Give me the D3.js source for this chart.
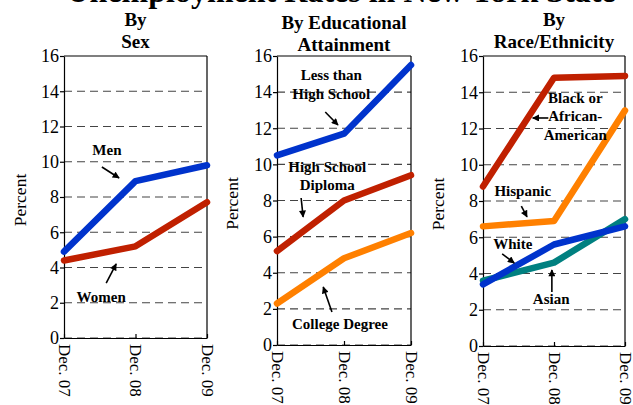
<!DOCTYPE html>
<html>
<head>
<meta charset="utf-8">
<script src="https://cdn.jsdelivr.net/npm/d3@7"></script>
<style>
  body { margin: 0; background: #fff; }
  svg { display: block; }
  svg text { font-family: "Liberation Serif", "DejaVu Serif", serif; }
</style>
</head>
<body>
<svg id="chart" width="633" height="405"></svg>
<script>
// ===== Data =====
const periods = ["Dec. 07", "Dec. 08", "Dec. 09"];
const yTicks = [0, 2, 4, 6, 8, 10, 12, 14, 16];

// By sex
const menVals = [4.9, 8.9, 9.8];
const womenVals = [4.4, 5.2, 7.7];

// By educational attainment
const lessThanHsVals = [10.5, 11.7, 15.5];
const hsDiplomaVals = [5.2, 8.0, 9.4];
const collegeVals = [2.3, 4.8, 6.2];

// By race/ethnicity
const blackVals = [8.8, 14.8, 14.9];
const hispanicVals = [6.6, 6.9, 13.0];
const asianVals = [3.6, 4.6, 7.0];
const whiteVals = [3.4, 5.6, 6.6];

// ===== Config =====
const TITLE = "Unemployment Rates in New York State";
const FONT = "'Liberation Serif', 'DejaVu Serif', serif";
const C_BLUE = "#0033cc", C_RED = "#c02000", C_ORANGE = "#ff8000", C_TEAL = "#008080";
const LINE_W = 6.5;

// annotations: text anchor + arrow given in data units (x = period index, y = percent)
const panels = [
  {
    title: ["By", "Sex"], titleY: 26,
    x0: 64, x1: 207, yTop: 56, yBot: 338, percentX: 20,
    series: [
      { vals: womenVals, color: C_RED },
      { vals: menVals, color: C_BLUE }
    ],
    notes: [
      { lines: ["Men"], at: [0.60, 10.38], from: [0.53, 9.70], to: [0.77, 9.08] },
      { lines: ["Women"], at: [0.52, 2.04], from: [0.59, 3.12], to: [0.73, 4.20] }
    ]
  },
  {
    title: ["By Educational", "Attainment"], titleY: 29,
    x0: 277, x1: 411, yTop: 56, yBot: 345, percentX: 232,
    series: [
      { vals: collegeVals, color: C_ORANGE },
      { vals: hsDiplomaVals, color: C_RED },
      { vals: lessThanHsVals, color: C_BLUE }
    ],
    notes: [
      { lines: ["Less than", "High School"], at: [0.81, 14.67], from: [0.72, 12.90], to: [0.91, 12.18] },
      { lines: ["High School", "Diploma"], at: [0.75, 9.58], from: [0.36, 8.14], to: [0.39, 7.09] },
      { lines: ["College Degree"], at: [0.94, 0.89], from: [0.82, 1.83], to: [0.69, 3.21] }
    ]
  },
  {
    title: ["By", "Race/Ethnicity"], titleY: 26,
    x0: 483, x1: 625, yTop: 56, yBot: 346, percentX: 438,
    series: [
      { vals: blackVals, color: C_RED },
      { vals: hispanicVals, color: C_ORANGE },
      { vals: asianVals, color: C_TEAL },
      { vals: whiteVals, color: C_BLUE }
    ],
    notes: [
      { lines: ["Black or", "African-", "American"], at: [1.30, 13.41], from: [0.92, 12.58], to: [0.70, 12.58] },
      { lines: ["Hispanic"], at: [0.56, 8.28], from: [0.54, 7.72], to: [0.62, 7.12] },
      { lines: ["White"], at: [0.42, 5.35], from: [0.27, 5.08], to: [0.44, 4.58] },
      { lines: ["Asian"], at: [0.96, 2.32], from: [0.97, 2.98], to: [0.97, 4.19] }
    ]
  }
];

// ===== Build =====
const svg = d3.select("#chart").attr("font-family", FONT);

svg.append("defs").append("marker")
  .attr("id", "arrow")
  .attr("viewBox", "0 0 10 10")
  .attr("refX", 9).attr("refY", 5)
  .attr("markerUnits", "userSpaceOnUse")
  .attr("markerWidth", 8).attr("markerHeight", 7)
  .attr("orient", "auto")
  .append("path").attr("d", "M0,0 L10,5 L0,10 z").attr("fill", "#000");

svg.append("text")
  .attr("x", 341).attr("y", 2)
  .attr("text-anchor", "middle")
  .attr("font-family", FONT)
  .attr("font-size", 32).attr("font-weight", "bold")
  .text(TITLE);

panels.forEach(p => {
  const x = d3.scalePoint().domain(periods).range([p.x0, p.x1]);
  const y = d3.scaleLinear().domain([0, 16]).range([p.yBot, p.yTop]);
  const xi = d3.scaleLinear().domain([0, periods.length - 1]).range([p.x0, p.x1]);
  const g = svg.append("g");
  const cx = (p.x0 + p.x1) / 2;

  // panel titles
  p.title.forEach((t, i) => {
    g.append("text")
      .attr("x", cx).attr("y", p.titleY + i * 22)
      .attr("text-anchor", "middle")
      .attr("font-family", FONT)
      .attr("font-size", 19).attr("font-weight", "bold")
      .text(t);
  });

  // dashed grid
  g.selectAll("line.grid").data(yTicks.filter(v => v < 16))
    .join("line").attr("class", "grid")
    .attr("x1", p.x0).attr("x2", p.x1)
    .attr("y1", d => y(d)).attr("y2", d => y(d))
    .attr("stroke", "#444").attr("stroke-width", 1.2)
    .attr("stroke-dasharray", "8,5");

  // frame: top + right
  g.append("line").attr("x1", p.x0).attr("x2", p.x1)
    .attr("y1", y(16)).attr("y2", y(16)).attr("stroke", "#000").attr("stroke-width", 1.2);
  g.append("line").attr("x1", p.x1).attr("x2", p.x1)
    .attr("y1", y(16)).attr("y2", y(0)).attr("stroke", "#000").attr("stroke-width", 1.2);

  // y axis
  const yAxisG = g.append("g").attr("transform", `translate(${p.x0},0)`)
    .call(d3.axisLeft(y).tickValues(yTicks).tickSize(4).tickSizeOuter(0).tickPadding(1));
  yAxisG.attr("font-family", FONT).attr("font-size", 18);
  yAxisG.selectAll("path, line").attr("stroke", "#000").attr("stroke-width", 1.2);
  yAxisG.selectAll("text").attr("fill", "#000").attr("font-family", FONT);

  // x axis
  const xAxisG = g.append("g").attr("transform", `translate(0,${p.yBot})`)
    .call(d3.axisBottom(x).tickSize(-4).tickSizeOuter(0));
  xAxisG.attr("font-family", FONT).attr("font-size", 17);
  xAxisG.selectAll("path, line").attr("stroke", "#000").attr("stroke-width", 1.2);
  xAxisG.selectAll("text")
    .attr("fill", "#000")
    .attr("font-family", FONT)
    .attr("transform", "rotate(90)")
    .attr("text-anchor", "start")
    .attr("x", 6).attr("y", 0).attr("dy", "0.35em");

  // y label
  g.append("text")
    .attr("transform", `translate(${p.percentX},${(p.yTop + p.yBot) / 2 + 3}) rotate(-90)`)
    .attr("text-anchor", "middle").attr("dy", "0.35em")
    .attr("font-family", FONT)
    .attr("font-size", 17.5)
    .text("Percent");

  // series
  const line = d3.line().x((d, i) => x(periods[i])).y(d => y(d));
  g.selectAll("path.series").data(p.series)
    .join("path").attr("class", "series")
    .attr("d", d => line(d.vals))
    .attr("fill", "none")
    .attr("stroke", d => d.color)
    .attr("stroke-width", LINE_W)
    .attr("stroke-linecap", "round")
    .attr("stroke-linejoin", "round");

  // annotations
  p.notes.forEach(n => {
    const t = g.append("text")
      .attr("text-anchor", "middle")
      .attr("font-family", FONT)
      .attr("font-size", 15).attr("font-weight", "bold");
    n.lines.forEach((s, i) => {
      t.append("tspan").attr("x", xi(n.at[0])).attr("y", y(n.at[1]) + i * 18.5).text(s);
    });
    g.append("line")
      .attr("x1", xi(n.from[0])).attr("y1", y(n.from[1]))
      .attr("x2", xi(n.to[0])).attr("y2", y(n.to[1]))
      .attr("stroke", "#000").attr("stroke-width", 1.6)
      .attr("marker-end", "url(#arrow)");
  });
});
</script>
</body>
</html>
